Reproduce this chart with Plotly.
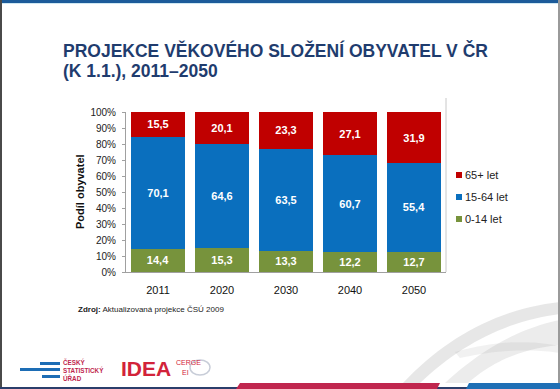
import plotly.graph_objects as go

years = ["2011", "2020", "2030", "2040", "2050"]
age_0_14 = [14.4, 15.3, 13.3, 12.2, 12.7]
age_15_64 = [70.1, 64.6, 63.5, 60.7, 55.4]
age_65 = [15.5, 20.1, 23.3, 27.1, 31.9]
series_names = ["0-14 let", "15-64 let", "65+ let"]
y_ticks = [0, 10, 20, 30, 40, 50, 60, 70, 80, 90, 100]
y_tick_labels = [f"{v}%" for v in y_ticks]
title_lines = ["PROJEKCE VĚKOVÉHO SLOŽENÍ OBYVATEL V ČR", "(K 1.1.), 2011–2050"]

W, H = 560, 389
L, R, T, B = 126, 446, 112, 272  # plot area in pixels

def px(x):
    return (x - L) / (R - L)

def py(y):
    return (B - y) / (B - T)

FONT = "Arial, Liberation Sans, sans-serif"
colors = ["#77933C", "#0A6FBE", "#C00000"]

fig = go.Figure()
for name, vals, col in zip(series_names, [age_0_14, age_15_64, age_65], colors):
    fig.add_trace(go.Bar(
        x=years, y=vals, name=name, marker=dict(color=col, line=dict(width=0)),
        text=[f"{v:.1f}".replace(".", ",") for v in vals],
        textposition="inside", insidetextanchor="middle", textangle=0,
        constraintext="none",
        textfont=dict(color="white", size=11, family=FONT, weight="bold"),
        hoverinfo="skip", showlegend=False,
    ))

shapes = []
annotations = []

# legend (65+ on top), drawn manually to match the compact original
legend_y = [219, 197, 175]
for name, col, ly in zip(series_names, colors, legend_y):
    shapes.append(dict(type="rect", xref="paper", yref="paper", x0=px(456), x1=px(462),
                       y0=py(ly + 3), y1=py(ly - 3), fillcolor=col, line=dict(width=0)))
    annotations.append(dict(text=name, xref="paper", yref="paper", x=px(463), y=py(ly),
                            xanchor="left", yanchor="middle", showarrow=False,
                            font=dict(family=FONT, size=11, color="#222222")))

# slide decorations
shapes.append(dict(type="rect", xref="paper", yref="paper", x0=px(0), x1=px(W), y0=py(0), y1=py(3),
                   fillcolor="#1C5B9A", line=dict(width=0), layer="above"))
shapes.append(dict(type="rect", xref="paper", yref="paper", x0=px(0), x1=px(W), y0=py(3), y1=py(4),
                   fillcolor="#CFE8F3", line=dict(width=0), layer="above"))
shapes.append(dict(type="rect", xref="paper", yref="paper", x0=px(0), x1=px(2), y0=py(0), y1=py(H),
                   fillcolor="#4A4A4A", line=dict(width=0), layer="above"))
shapes.append(dict(type="rect", xref="paper", yref="paper", x0=px(558), x1=px(W), y0=py(0), y1=py(H),
                   fillcolor="#9A9A9A", line=dict(width=0), layer="above"))

def path(points):
    return "M " + " L ".join(f"{px(a):.4f},{py(b):.4f}" for a, b in points) + " Z"

def arc_pts(p0, p1, p2, n=24):
    pts = []
    for i in range(n + 1):
        t = i / n
        x = (1 - t) ** 2 * p0[0] + 2 * (1 - t) * t * p1[0] + t ** 2 * p2[0]
        y = (1 - t) ** 2 * p0[1] + 2 * (1 - t) * t * p1[1] + t ** 2 * p2[1]
        pts.append((x, y))
    return pts

# light grey swooshes
band1 = arc_pts((403, 383), (470, 312), (560, 302)) + arc_pts((560, 314), (482, 324), (420, 383))
band2 = arc_pts((445, 383), (500, 332), (560, 320)) + arc_pts((560, 345), (505, 350), (468, 383))
band3 = arc_pts((455, 352), (510, 336), (560, 346)) + arc_pts((560, 353), (515, 346), (460, 358))
for b, op in [(band1, 0.25), (band2, 0.2), (band3, 0.15)]:
    shapes.append(dict(type="path", xref="paper", yref="paper", path=path(b),
                       fillcolor=f"rgba(160,160,160,{op})", line=dict(width=0), layer="below"))
# bottom bars
shapes.append(dict(type="rect", xref="paper", yref="paper", x0=px(0), x1=px(W), y0=py(387), y1=py(389),
                   fillcolor="#2B3E6B", line=dict(width=0), layer="above"))
shapes.append(dict(type="path", xref="paper", yref="paper",
                   path=path([(236, 389), (240, 383), (440, 383), (437, 389)]),
                   fillcolor="#C0264E", line=dict(width=0), layer="above"))
shapes.append(dict(type="path", xref="paper", yref="paper",
                   path=path([(466, 389), (469, 383), (560, 383), (560, 389)]),
                   fillcolor="#1F6FB5", line=dict(width=0), layer="above"))
# plot frame right line
shapes.append(dict(type="line", xref="paper", yref="paper", x0=1, x1=1, y0=0, y1=py(98),
                   line=dict(color="#C8C8C8", width=1)))
# CSU logo bars
for (x0, x1, y0, y1) in [(40, 60, 362, 365), (20, 60, 368, 371), (42, 60, 375, 378)]:
    shapes.append(dict(type="rect", xref="paper", yref="paper", x0=px(x0), x1=px(x1), y0=py(y1), y1=py(y0),
                       fillcolor="#1D6DB5", line=dict(width=0)))
# CERGE EI glyph
shapes.append(dict(type="circle", xref="paper", yref="paper", x0=px(190), x1=px(210), y0=py(375), y1=py(360),
                   fillcolor="rgba(0,0,0,0)", line=dict(color="#C8CDD8", width=1.5)))

for line_text, ly in zip(title_lines, [50, 71]):
    annotations.append(dict(text=f"<b>{line_text}</b>",
                            xref="paper", yref="paper", x=px(61), y=py(ly), xanchor="left", yanchor="middle",
                            align="left", showarrow=False,
                            font=dict(family=FONT, size=17.5, color="#1F3C6E")))
annotations.append(dict(text="<b>Zdroj:</b> Aktualizovaná projekce ČSÚ 2009",
                        xref="paper", yref="paper", x=px(76), y=py(309), xanchor="left", yanchor="middle",
                        showarrow=False, font=dict(family=FONT, size=8, color="#222222")))
annotations.append(dict(text="<b>Podíl obyvatel</b>", textangle=-90,
                        xref="paper", yref="paper", x=px(80), y=py(192), xanchor="center", yanchor="middle",
                        showarrow=False, font=dict(family=FONT, size=11, color="#111111")))
annotations.append(dict(text="<b>ČESKÝ<br>STATISTICKÝ<br>ÚŘAD</b>",
                        xref="paper", yref="paper", x=px(61), y=py(370), xanchor="left", yanchor="middle",
                        align="left", showarrow=False,
                        font=dict(family=FONT, size=6.3, color="#C0264E")))
annotations.append(dict(text="<b>IDEA</b>",
                        xref="paper", yref="paper", x=px(173), y=py(368), xanchor="right", yanchor="middle",
                        showarrow=False, font=dict(family=FONT, size=21, color="#D2233A")))
annotations.append(dict(text="CERGE",
                        xref="paper", yref="paper", x=px(174), y=py(362), xanchor="left", yanchor="middle",
                        showarrow=False, font=dict(family=FONT, size=7, color="#D2233A")))
annotations.append(dict(text="EI",
                        xref="paper", yref="paper", x=px(180), y=py(372), xanchor="left", yanchor="middle",
                        showarrow=False, font=dict(family=FONT, size=7, color="#D2233A")))

fig.update_layout(
    width=W, height=H, autosize=False,
    margin=dict(l=L, r=W - R, t=T, b=H - B, pad=0),
    barmode="stack", bargap=0.17,
    paper_bgcolor="white", plot_bgcolor="rgba(0,0,0,0)",
    font=dict(family=FONT, size=10, color="#222222"),
    showlegend=False,
    xaxis=dict(type="category", showline=True, linecolor="#A0A0A0", linewidth=1,
               ticks="", ticklabelstandoff=8, tickfont=dict(family=FONT, size=11, color="#111111"),
               showgrid=False, fixedrange=True),
    yaxis=dict(range=[0, 100], tickvals=y_ticks, ticktext=y_tick_labels, showline=True,
               linecolor="#A0A0A0", linewidth=1, ticks="outside", ticklen=3, tickcolor="#A0A0A0",
               ticklabelstandoff=4,
               showgrid=False, zeroline=False, tickfont=dict(family=FONT, size=10, color="#222222"),
               fixedrange=True),
    shapes=shapes, annotations=annotations,
)

fig.write_html("out.html", config={"displayModeBar": False},
               post_script="document.body.style.margin='0px';document.body.style.padding='0px';")
